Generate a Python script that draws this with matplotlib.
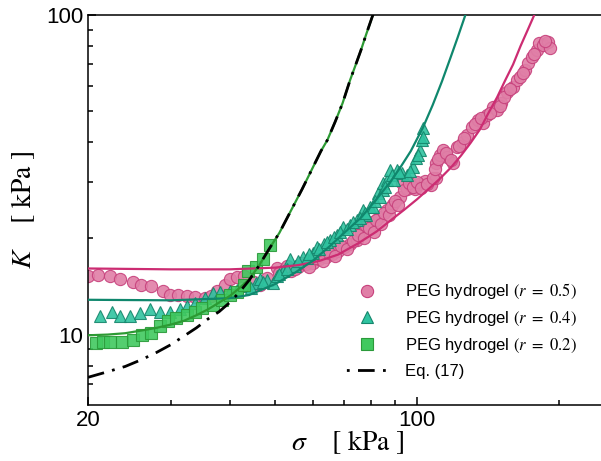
"""
Bulk modulus K versus stress sigma for PEG hydrogels (log-log)
"""

import matplotlib
matplotlib.use('Agg')
import matplotlib.pyplot as plt
from matplotlib.lines import Line2D

plt.rcParams['font.family'] = ['Liberation Sans', 'DejaVu Sans']
plt.rcParams['mathtext.fontset'] = 'stix'
plt.rcParams['lines.scale_dashes'] = False

# PEG hydrogel r = 0.5 (circles)
sig_05 = [20.0, 21.0, 22.3, 23.4, 24.9, 25.9, 27.2, 28.8, 29.9, 31.1, 32.4, 33.7,
          35.5, 36.5, 37.6, 39.0, 40.1, 41.5, 42.8, 45.0, 46.4, 48.0, 50.5, 52.5,
          54.0, 56.0, 58.0, 60.2, 62.0, 64.0, 66.0, 68.0, 70.0, 72.0, 74.6, 76.0,
          78.0, 80.6, 83.0, 86.5, 89.0, 92.0, 93.0, 95.0, 97.0, 99.0, 101.0, 104.0,
          107.0, 110.0, 110.0, 112.0, 113.7, 116.0, 119.0, 121.6, 125.0, 128.0,
          131.0, 135.0, 138.0, 141.0, 145.0, 148.0, 151.0, 155.0, 160.0, 163.0,
          165.5, 170.0, 172.0, 175.5, 179.5, 182.0, 185.0, 190.0, 192.0,
          51.0, 53.0, 55.0, 57.0, 59.0, 61.0, 63.0, 65.0, 67.0, 69.0, 71.0, 73.0,
          75.0, 77.0, 79.0, 81.0, 82.0, 84.0, 85.0, 87.0, 88.0, 90.0, 91.0, 94.0,
          96.0, 98.0, 100.0, 102.0, 105.0, 108.0, 109.0, 111.0, 115.0, 118.0,
          123.0, 126.0, 133.0, 137.0, 143.0, 150.0, 153.0, 158.0, 168.0, 177.0,
          187.0]
K_05 = [15.3, 15.4, 15.2, 14.95, 14.6, 14.25, 14.2, 13.65, 13.3, 13.3, 13.2, 13.1,
        13.0, 13.2, 13.65, 14.3, 14.9, 15.1, 15.2, 14.6, 14.3, 15.0, 16.2, 16.0,
        15.8, 16.3, 16.6, 16.8, 17.2, 17.5, 17.9, 18.3, 18.8, 19.2, 19.8, 21.0,
        21.8, 22.5, 23.3, 24.5, 25.6, 27.0, 29.9, 28.6, 29.2, 28.5, 29.6, 30.2,
        29.3, 31.0, 34.5, 36.5, 37.8, 36.0, 34.5, 38.7, 40.0, 42.2,
        44.5, 46.9, 46.0, 48.7, 51.6, 50.5, 53.0, 57.6, 59.6, 62.6,
        64.0, 67.3, 70.7, 73.8, 77.6, 81.8, 80.6, 82.4, 78.6,
        15.6, 16.4, 16.0, 16.8, 16.3, 17.4, 17.0, 18.0, 17.6, 18.9, 18.5, 19.6,
        20.5, 20.0, 21.5, 21.0, 22.8, 22.2, 24.0, 23.6, 25.0, 26.2, 25.4, 28.4,
        29.8, 29.0, 30.0, 28.8, 29.6, 30.8, 33.0, 35.5, 37.0, 35.2,
        39.0, 41.2, 45.5, 47.5, 49.5, 52.0, 55.5, 58.5, 66.0, 75.5,
        83.0]

# PEG hydrogel r = 0.4 (triangles)
sig_04 = [21.2, 22.5, 23.4, 24.6, 25.8, 27.1, 28.5, 29.9, 31.4, 32.4, 33.7, 35.5,
          36.9, 38.2, 40.0, 41.5, 43.5, 45.5, 46.4, 48.0, 49.4, 50.5, 52.0, 53.7,
          55.0, 57.3, 58.4, 60.0, 61.4, 63.5, 65.4, 67.5, 69.7, 72.0, 74.6, 76.8,
          78.0, 79.5, 80.6, 82.7, 84.5, 84.5, 86.5, 87.7, 90.5, 93.0, 95.0, 98.0,
          99.5, 101.6, 102.4, 103.0, 103.0,
          44.5, 47.0, 51.0, 53.0, 56.0, 59.0, 62.0, 64.5, 66.5, 68.5, 71.0, 73.0,
          75.5, 77.5, 81.5, 83.5, 85.5, 88.5, 89.5, 91.5, 96.5, 100.5]
K_04 = [11.4, 11.8, 11.4, 11.4, 11.7, 12.0, 11.8, 11.8, 12.05, 12.3, 12.6, 13.0,
        13.5, 13.6, 13.7, 13.8, 14.2, 14.5, 14.9, 14.8, 14.5, 15.2, 15.8, 17.2,
        16.4, 17.5, 17.4, 18.0, 18.8, 19.2, 19.8, 20.5, 21.7, 22.0, 22.9, 24.6,
        23.6, 25.1, 25.1, 27.8, 28.4, 29.9, 30.5, 32.8, 32.8, 32.0, 31.6, 33.5,
        35.7, 37.8, 40.6, 44.3, 41.6,
        14.0, 14.6, 15.5, 16.0, 17.0, 17.9, 18.5, 19.5, 20.2, 21.0, 21.4, 22.5,
        23.2, 24.0, 26.2, 27.0, 29.0, 31.5, 30.5, 32.3, 32.6, 36.5]

# PEG hydrogel r = 0.2 (squares)
sig_02 = [20.8, 21.5, 22.3, 23.6, 24.9, 26.0, 27.2, 28.5, 29.6, 30.8, 32.4, 33.7,
          35.0, 36.8, 38.5, 40.1, 41.5, 42.8, 43.7, 45.5, 47.0, 48.7]
K_02 = [9.4, 9.45, 9.45, 9.5, 9.65, 10.0, 10.15, 10.65, 11.0, 11.3, 11.55, 11.8,
        12.1, 12.4, 12.8, 13.3, 13.6, 14.3, 15.8, 16.3, 17.2, 19.0]

# model curves
fit_sig_05 = [20, 30, 40, 50, 56, 62, 68, 75, 82, 88, 94, 100, 106, 112, 118, 124,
              130, 136, 142, 148, 154, 160, 166, 172, 178]
fit_K_05 = [16.1, 16.0, 16.0, 16.2, 16.5, 17.0, 17.8, 19.3, 21.0, 22.8, 24.6, 26.5,
            28.6, 30.8, 33.3, 36.3, 39.8, 43.8, 49.5, 55.3, 62.5, 70.0, 80.0, 90.0,
            101.0]

fit_sig_04 = [20, 30, 40, 44, 50, 55, 60, 65, 70, 76, 82, 88, 92, 97, 103, 108, 113,
              118, 122, 127]
fit_K_04 = [12.85, 12.8, 13.0, 13.3, 14.4, 15.6, 17.0, 18.8, 20.8, 23.2, 26.5, 30.2,
            33.2, 37.5, 44.5, 52.3, 62.0, 74.0, 85.0, 101.0]

fit_sig_02 = [20, 22, 24, 26, 28, 30, 32, 34, 36, 38, 40, 42, 44, 46, 48.7, 51, 54.5,
              57, 60, 62.5, 64.5, 67, 69.5, 72.1, 74, 76, 78, 80.2, 81]
fit_K_02 = [9.95, 10.0, 10.1, 10.3, 10.5, 10.75, 11.05, 11.5, 12.0, 12.6, 13.2, 14.0,
            14.9, 16.3, 18.7, 20.8, 25.1, 28.5, 33.2, 37.5, 40.6, 46.3, 53.0, 62.6,
            69.5, 77.5, 87.0, 98.0, 102.0]

eq17_sig = [20, 22, 24, 26, 28, 30, 32, 34, 36, 38, 40, 42, 44, 46, 48.7, 51, 54.5,
            57, 60, 62.5, 64.5, 67, 69.5, 72.1, 74, 76, 78, 80.2, 81]
eq17_K = [7.35, 7.65, 7.95, 8.35, 8.8, 9.3, 9.9, 10.5, 11.2, 11.8, 12.6, 13.6,
          14.8, 16.3, 18.7, 20.8, 25.1, 28.5, 33.2, 37.5, 40.6, 46.3, 53.0, 62.6,
          69.5, 77.5, 87.0, 98.0, 102.0]

labels = [r'PEG hydrogel $(r\ =\ 0.5)$', r'PEG hydrogel $(r\ =\ 0.4)$',
          r'PEG hydrogel $(r\ =\ 0.2)$', 'Eq. (17)']

# Colors
pink_face, pink_edge, pink_line = '#e07fa7', '#c7417c', '#cc2c72'
teal_face, teal_edge, teal_line = '#2fc3a0', '#15866c', '#0f876d'
green_face, green_edge, green_line = '#41c95f', '#2b9a3a', '#2c9a33'

fig = plt.figure(figsize=(6.01, 4.61), dpi=100)
ax = fig.add_axes([0.1464, 0.1204, 0.8536, 0.8471])

ms = 8.8
ax.plot(sig_05, K_05, 'o', ms=ms, mfc=pink_face, mec=pink_edge, mew=0.8, alpha=0.9,
        zorder=2)
ax.plot(sig_04, K_04, '^', ms=ms, mfc=teal_face, mec=teal_edge, mew=0.8, alpha=0.9,
        zorder=3)
ax.plot(sig_02, K_02, 's', ms=ms - 0.8, mfc=green_face, mec=green_edge, mew=0.8,
        alpha=0.9, zorder=4)

ax.plot(fit_sig_05, fit_K_05, '-', color=pink_line, lw=1.6, zorder=5)
ax.plot(fit_sig_04, fit_K_04, '-', color=teal_line, lw=1.6, zorder=5)
ax.plot(fit_sig_02, fit_K_02, '-', color=green_line, lw=1.6, zorder=5)
ax.plot(eq17_sig, eq17_K, color='black', lw=2.0, linestyle=(0, (12, 6, 2, 6)),
        zorder=6)

ax.set_xscale('log')
ax.set_yscale('log')
ax.set_xlim(20, 246)
ax.set_ylim(6.0, 100)

ax.set_xticks([20, 100])
ax.set_xticklabels(['20', '100'])
ax.set_xticks([30, 40, 50, 60, 70, 80, 90, 200], minor=True)
ax.set_xticklabels([], minor=True)
ax.set_yticks([10, 100])
ax.set_yticklabels(['10', '100'])
ax.set_yticks([7, 8, 9, 20, 30, 40, 50, 60, 70, 80, 90], minor=True)
ax.set_yticklabels([], minor=True)

ax.tick_params(which='both', direction='in', top=False, right=False, width=1.1,
               labelsize=16)
ax.tick_params(which='major', length=6)
ax.tick_params(which='minor', length=3.5)
for s in ['left', 'bottom', 'top']:
    ax.spines[s].set_linewidth(1.1)
ax.spines['right'].set_visible(False)

ax.set_xlabel(r'$\sigma\quad\ [\ \mathrm{kPa}\ ]$', fontsize=20)
ax.xaxis.set_label_coords(0.507, -0.058)
ax.set_ylabel(r'$K\quad\ [\ \mathrm{kPa}\ ]$', fontsize=20)
ax.yaxis.set_label_coords(-0.10, 0.5)

handles = [
    Line2D([], [], marker='o', ls='none', ms=ms, mfc=pink_face, mec=pink_edge, mew=0.8),
    Line2D([], [], marker='^', ls='none', ms=ms, mfc=teal_face, mec=teal_edge, mew=0.8),
    Line2D([], [], marker='s', ls='none', ms=ms - 0.8, mfc=green_face, mec=green_edge,
           mew=0.8),
    Line2D([], [], color='black', lw=2.0, linestyle=(17, (12, 6, 2, 6))),
]
ax.legend(handles, labels, loc='lower left', bbox_to_anchor=(0.472, 0.03),
          frameon=False, fontsize=12, handlelength=2.6, handletextpad=1.0,
          labelspacing=0.52, numpoints=1)

plt.savefig('out.png', dpi=100)
plt.close()
